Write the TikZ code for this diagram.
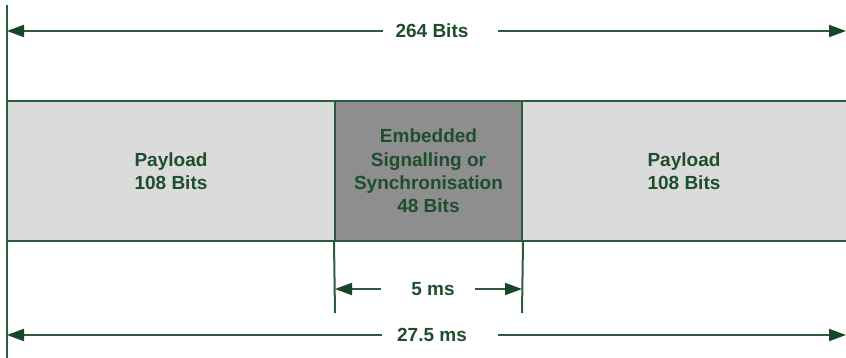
\documentclass[tikz,border=0pt]{standalone}
\usepackage{fontspec}
\setmainfont{Liberation Sans}
\usetikzlibrary{arrows.meta}

\definecolor{linegreen}{RGB}{44,92,62}
\definecolor{tipgreen}{RGB}{24,68,40}
\definecolor{textgreen}{RGB}{30,78,46}
\definecolor{lightgrey}{RGB}{219,219,219}
\definecolor{darkgrey}{RGB}{142,142,142}

\tikzset{
  field/.style={rectangle, inner sep=0pt, align=center, text=textgreen,
    font=\fontsize{19}{23.3}\selectfont\bfseries},
  payload/.style={field, fill=lightgrey, minimum height=140pt},
  signal/.style={field, fill=darkgrey, draw=linegreen, line width=2pt,
    minimum height=140pt},
  frame/.style={draw=linegreen, line width=2pt},
  dimlabel/.style={inner sep=0pt, text=textgreen,
    font=\fontsize{19}{23.3}\selectfont\bfseries},
  dim/.style={draw=linegreen, line width=2pt,
    -{Triangle[length=17pt, width=12pt, fill=tipgreen, color=tipgreen]}},
}

\begin{document}
\begin{tikzpicture}[x=1pt, y=-1pt]
  \useasboundingbox (0,0) rectangle (846,358);

  % the three fields of the burst
  \node[payload, minimum width=328pt] (pl) at (171,171) {Payload\\108 Bits};
  \node[payload, minimum width=324pt] (pr) at (684,171) {Payload\\108 Bits};
  \node[signal, minimum width=187pt] (sig) at (428.5,171)
    {Embedded\\Signalling or\\Synchronisation\\48 Bits};

  % upper and lower edges of the band
  \draw[frame] (pl.north west) -- (pr.north east);
  \draw[frame] (pl.south west) -- (pr.south east);

  % full-height reference line on the left
  \coordinate (ltop) at (7,5);
  \coordinate (lbot) at (7,358);
  \draw[frame] (ltop) -- (lbot);

  % extension lines under the signalling field
  \coordinate (sl) at (335,313);
  \coordinate (sr) at (522,313);
  \draw[frame] (sig.south west) -- (sl);
  \draw[frame] (sig.south east) -- (sr);

  % 264 Bits
  \node[dimlabel] (bits) at (432,31) {264 Bits};
  \coordinate (bl) at (7,31);
  \coordinate (br) at (846,31);
  \coordinate (bgl) at (383,31);
  \coordinate (bgr) at (498,31);
  \draw[dim] (bgl) -- (bl);
  \draw[dim] (bgr) -- (br);

  % 5 ms
  \node[dimlabel] (five) at (433,289) {5 ms};
  \coordinate (fl) at (335,289);
  \coordinate (fr) at (522,289);
  \coordinate (fgl) at (381,289);
  \coordinate (fgr) at (475,289);
  \draw[dim] (fgl) -- (fl);
  \draw[dim] (fgr) -- (fr);

  % 27.5 ms
  \node[dimlabel] (total) at (432,335) {27.5 ms};
  \coordinate (tl) at (7,335);
  \coordinate (tr) at (846,335);
  \coordinate (tgl) at (382,335);
  \coordinate (tgr) at (498,335);
  \draw[dim] (tgl) -- (tl);
  \draw[dim] (tgr) -- (tr);
\end{tikzpicture}
\end{document}
